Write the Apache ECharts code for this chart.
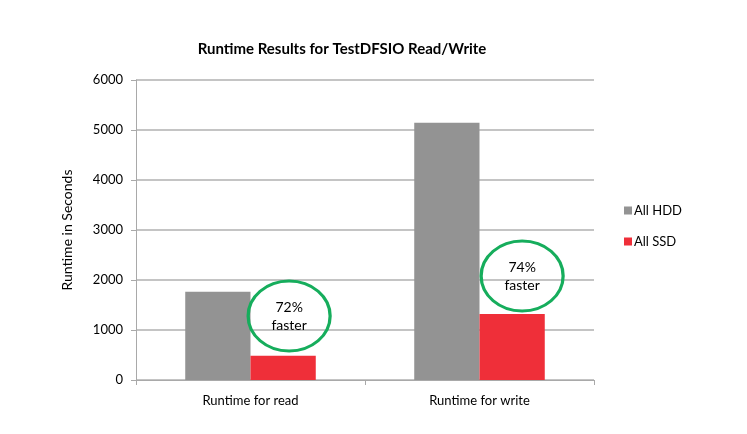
<!DOCTYPE html>
<html>
<head>
<meta charset="utf-8">
<script src="https://cdn.jsdelivr.net/npm/echarts@6/dist/echarts.min.js"></script>
<style>
  html, body { margin: 0; padding: 0; background: #fff; }
  #chart { width: 747px; height: 434px; }
</style>
</head>
<body>
<div id="chart"></div>
<script>
// data
var categories = ['Runtime for read', 'Runtime for write'];
var hddValues = [1767, 5147];
var ssdValues = [487, 1320];
var speedupLabels = ['72%\nfaster', '74%\nfaster'];
var calloutValues = [1280, 2080]; // vertical centre of the green rings, in seconds
var yTicks = { min: 0, max: 6000, interval: 1000 };

var font = 'Lato, "Open Sans", sans-serif';
var axisGray = '#a9a9a9';

var chart = echarts.init(document.getElementById('chart'));

// rings sit a little right of the SSD bar centre
var callouts = categories.map(function (c, i) {
    return {
        coord: [c, calloutValues[i]],
        symbolOffset: [i === 0 ? 6 : 10, 0],
        label: { formatter: speedupLabels[i] }
    };
});

chart.setOption({
    animation: false,
    textStyle: { fontFamily: font },
    title: {
        text: 'Runtime Results for TestDFSIO Read/Write',
        left: 337,
        textAlign: 'center',
        top: 37,
        textStyle: { fontSize: 15, fontWeight: 'bold', color: '#000', fontFamily: font }
    },
    legend: {
        orient: 'vertical',
        left: 619,
        top: 199,
        icon: 'rect',
        itemWidth: 8,
        itemHeight: 8,
        itemGap: 18,
        textStyle: { fontSize: 13, color: '#000', fontFamily: font, padding: [0, 0, 0, -3] }
    },
    grid: { left: 136, right: 153, top: 80, bottom: 54 },
    xAxis: {
        type: 'category',
        data: categories,
        axisLine: { lineStyle: { color: axisGray, width: 1 } },
        axisTick: { show: true, length: 5, lineStyle: { color: axisGray } },
        axisLabel: { color: '#000', fontSize: 13, margin: 14, fontFamily: font },
        splitLine: { show: false }
    },
    yAxis: {
        type: 'value',
        min: yTicks.min,
        max: yTicks.max,
        interval: yTicks.interval,
        name: 'Runtime in Seconds',
        nameLocation: 'middle',
        nameGap: 62,
        nameTextStyle: { fontSize: 14, color: '#000', fontFamily: font },
        axisLine: { show: true, lineStyle: { color: axisGray, width: 1 } },
        axisTick: { show: true, length: 5, lineStyle: { color: axisGray } },
        axisLabel: {
            color: '#000', fontSize: 13, margin: 13, fontFamily: font,
            formatter: function (v) { return String(v); }
        },
        splitLine: { lineStyle: { color: '#c4c4c4', width: 2 } }
    },
    series: [
        {
            name: 'All HDD',
            type: 'bar',
            data: hddValues,
            barGap: '0%',
            barCategoryGap: '43%',
            itemStyle: { color: '#939393' }
        },
        {
            name: 'All SSD',
            type: 'bar',
            data: ssdValues,
            itemStyle: { color: '#ef2f39' },
            markPoint: {
                symbol: 'circle',
                symbolSize: [82, 70],
                itemStyle: { color: 'rgba(255,255,255,0)', borderColor: '#16ad5c', borderWidth: 3 },
                label: {
                    show: true,
                    position: 'inside',
                    color: '#000',
                    fontSize: 14,
                    lineHeight: 18,
                    fontFamily: font
                },
                data: callouts
            }
        }
    ]
});
</script>
</body>
</html>
